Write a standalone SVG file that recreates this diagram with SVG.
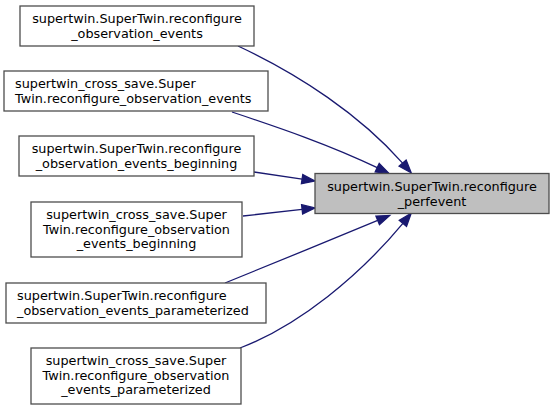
<svg xmlns="http://www.w3.org/2000/svg" width="555" height="410" viewBox="0 0 555 410">
<style>
.node rect{fill:#ffffff;stroke:#4d4d4d;stroke-width:1.3}
.node.hl rect{fill:#bfbfbf}
.node text{font-family:"DejaVu Sans",sans-serif;font-size:12.8px;fill:#000}
.c{text-anchor:middle}
.l{text-anchor:start}
.edges path{fill:none;stroke:#191970;stroke-width:1.3;marker-end:url(#arr)}
</style>
<defs>
<marker id="arr" markerUnits="userSpaceOnUse" markerWidth="16" markerHeight="12" refX="0" refY="5" orient="auto" viewBox="0 0 16 10" overflow="visible">
<polygon points="0,0.3 13,5 0,9.7" fill="#191970" stroke="#191970" stroke-width="1.3"/>
</marker>
</defs>
<rect width="555" height="410" fill="#ffffff"/>
<g class="edges">
<path d="M238,46 C300,75 360,115 402.6,163.1"/>
<path d="M232,112 C280,128 330,145 377.2,167.7"/>
<path d="M254,172 L302.1,179.1"/>
<path d="M243,216 L302.1,209.4"/>
<path d="M225,283 C270,265 330,240 377.7,220.4"/>
<path d="M240,348 C300,325 360,275 402.9,223.3"/>
</g>
<g id="target" class="node hl">
<rect x="315" y="173.5" width="234" height="40"/>
<text class="c" x="432" y="191">supertwin.SuperTwin.reconfigure</text>
<text class="c" x="432" y="205.5">_perfevent</text>
</g>
<g id="n1" class="node">
<rect x="20" y="6" width="234" height="40"/>
<text class="c" x="137" y="23">supertwin.SuperTwin.reconfigure</text>
<text class="c" x="137" y="37.5">_observation_events</text>
</g>
<g id="n2" class="node">
<rect x="4" y="71" width="264" height="40"/>
<text class="l" x="15" y="88">supertwin_cross_save.Super</text>
<text class="l" x="15" y="102.5">Twin.reconfigure_observation_events</text>
</g>
<g id="n3" class="node">
<rect x="19" y="136" width="235" height="40"/>
<text class="c" x="136.5" y="153">supertwin.SuperTwin.reconfigure</text>
<text class="c" x="136.5" y="167.5">_observation_events_beginning</text>
</g>
<g id="n4" class="node">
<rect x="31" y="202" width="211" height="55"/>
<text class="c" x="136.5" y="219">supertwin_cross_save.Super</text>
<text class="c" x="136.5" y="233.5">Twin.reconfigure_observation</text>
<text class="c" x="136.5" y="248">_events_beginning</text>
</g>
<g id="n5" class="node">
<rect x="6" y="283" width="260" height="40"/>
<text class="l" x="17" y="300">supertwin.SuperTwin.reconfigure</text>
<text class="l" x="17" y="314.5">_observation_events_parameterized</text>
</g>
<g id="n6" class="node">
<rect x="31" y="348" width="210" height="56"/>
<text class="c" x="136" y="365">supertwin_cross_save.Super</text>
<text class="c" x="136" y="379.5">Twin.reconfigure_observation</text>
<text class="c" x="136" y="394">_events_parameterized</text>
</g>
</svg>
